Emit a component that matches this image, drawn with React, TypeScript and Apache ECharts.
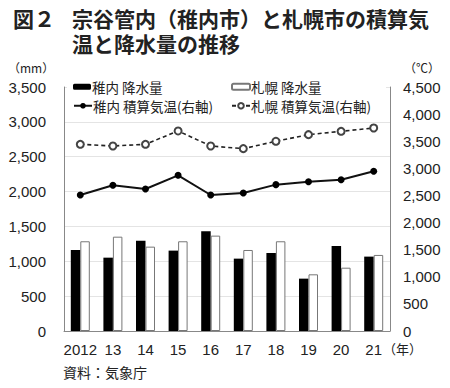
import React, { useEffect, useRef } from "react";
import * as echarts from "echarts";

const years = ["2012", "13", "14", "15", "16", "17", "18", "19", "20", "21"];
const wakkanaiPrecip = [1162, 1052, 1296, 1153, 1430, 1038, 1119, 751, 1220, 1067];
const sapporoPrecip = [1287, 1353, 1210, 1287, 1368, 1162, 1287, 813, 908, 1091];
const wakkanaiTemp = [2508, 2687, 2619, 2871, 2508, 2545, 2699, 2754, 2791, 2945];
const sapporoTemp = [3443, 3412, 3443, 3689, 3412, 3363, 3499, 3621, 3683, 3744];

const names = ["稚内 降水量", "札幌 降水量", "稚内 積算気温(右軸)", "札幌 積算気温(右軸)"];

const JP = "'Noto Sans CJK JP', 'Noto Sans', sans-serif";
const NUM = "'Liberation Sans', Arial, 'Noto Sans CJK JP', sans-serif";
const TXT = "#222";

export default function App() {
  const ref = useRef<HTMLDivElement>(null);
  useEffect(() => {
    if (!ref.current) return;
    const chart = echarts.init(ref.current, null, { renderer: "svg" });
    const legendBase = {
      padding: 0,
      itemWidth: 18,
      itemHeight: 7,
      textStyle: { fontFamily: JP, fontSize: 13.5, color: TXT, padding: [0, 0, 0, -4] },
      selectedMode: false,
    };
    const titleStyle = { fontFamily: JP, fontSize: 21, lineHeight: 21, fontWeight: "bold", color: TXT };
    chart.setOption({
      animation: false,
      backgroundColor: "#fff",
      title: [
        { text: "図２", left: 13, top: 7, padding: 0, textStyle: titleStyle },
        { text: "宗谷管内（稚内市）と札幌市の積算気", left: 72, top: 7, padding: 0, textStyle: titleStyle },
        { text: "温と降水量の推移", left: 72, top: 32, padding: 0, textStyle: titleStyle },
      ],
      legend: [
        { ...legendBase, data: [names[0]], left: 73, top: 80, itemHeight: 6 },
        { ...legendBase, data: [names[1]], left: 231, top: 80, itemHeight: 6 },
        { ...legendBase, data: [names[2]], left: 73, top: 99 },
        { ...legendBase, data: [names[3]], left: 231, top: 99 },
      ],
      grid: { left: 64, right: 60, top: 87, bottom: 57 },
      graphic: [
        { type: "rect", z: 3, shape: { x: 67, y: 84, width: 319, height: 32 }, style: { fill: "#fff" } },
        { type: "text", left: 8, top: 61, style: { text: "（mm）", fontFamily: JP, fontSize: 12, fill: TXT } },
        { type: "text", left: 404, top: 61, style: { text: "（℃）", fontFamily: JP, fontSize: 12, fill: TXT } },
        { type: "text", left: 383, top: 342, style: { text: "（年）", fontFamily: JP, fontSize: 13, fill: TXT } },
        { type: "text", left: 63, top: 365, style: { text: "資料：気象庁", fontFamily: JP, fontSize: 14, fill: TXT } },
      ],
      xAxis: {
        type: "category",
        data: years,
        axisLine: { lineStyle: { color: "#888", width: 1 } },
        axisTick: { show: false },
        axisLabel: { fontFamily: NUM, fontSize: 15, color: TXT, margin: 11, interval: 0 },
      },
      yAxis: [
        {
          type: "value",
          min: 0,
          max: 3500,
          interval: 500,
          axisLine: { show: true, lineStyle: { color: "#888" } },
          axisTick: { show: false },
          splitLine: { lineStyle: { color: "#e4e4e4" } },
          axisLabel: {
            fontFamily: NUM,
            fontSize: 15,
            color: TXT,
            margin: 18,
            formatter: (v: number) => v.toLocaleString("en-US"),
          },
        },
        {
          type: "value",
          min: 0,
          max: 4500,
          interval: 500,
          axisLine: { show: true, lineStyle: { color: "#888" } },
          axisTick: { show: false },
          splitLine: { show: false },
          axisLabel: {
            fontFamily: NUM,
            fontSize: 15,
            color: TXT,
            margin: 13,
            formatter: (v: number) => v.toLocaleString("en-US"),
          },
        },
      ],
      series: [
        {
          name: names[0],
          type: "bar",
          data: wakkanaiPrecip,
          barWidth: 9.5,
          barGap: "0%",
          itemStyle: { color: "#000" },
        },
        {
          name: names[1],
          type: "bar",
          data: sapporoPrecip,
          barWidth: 9.5,
          barGap: "0%",
          itemStyle: { color: "#fff", borderColor: "#777", borderWidth: 1 },
        },
        {
          name: names[2],
          type: "line",
          yAxisIndex: 1,
          data: wakkanaiTemp,
          symbol: "circle",
          symbolSize: 7,
          lineStyle: { color: "#111", width: 2 },
          itemStyle: { color: "#000" },
        },
        {
          name: names[3],
          type: "line",
          yAxisIndex: 1,
          data: sapporoTemp,
          symbol: "emptyCircle",
          symbolSize: 7,
          showSymbol: true,
          lineStyle: { color: "#222", width: 1.6, type: [4, 3] },
          itemStyle: { color: "#444", borderWidth: 1 },
        },
      ],
    });
    return () => chart.dispose();
  }, []);
  return <div ref={ref} style={{ width: 450, height: 388, position: "absolute", left: 0, top: 0 }} />;
}
